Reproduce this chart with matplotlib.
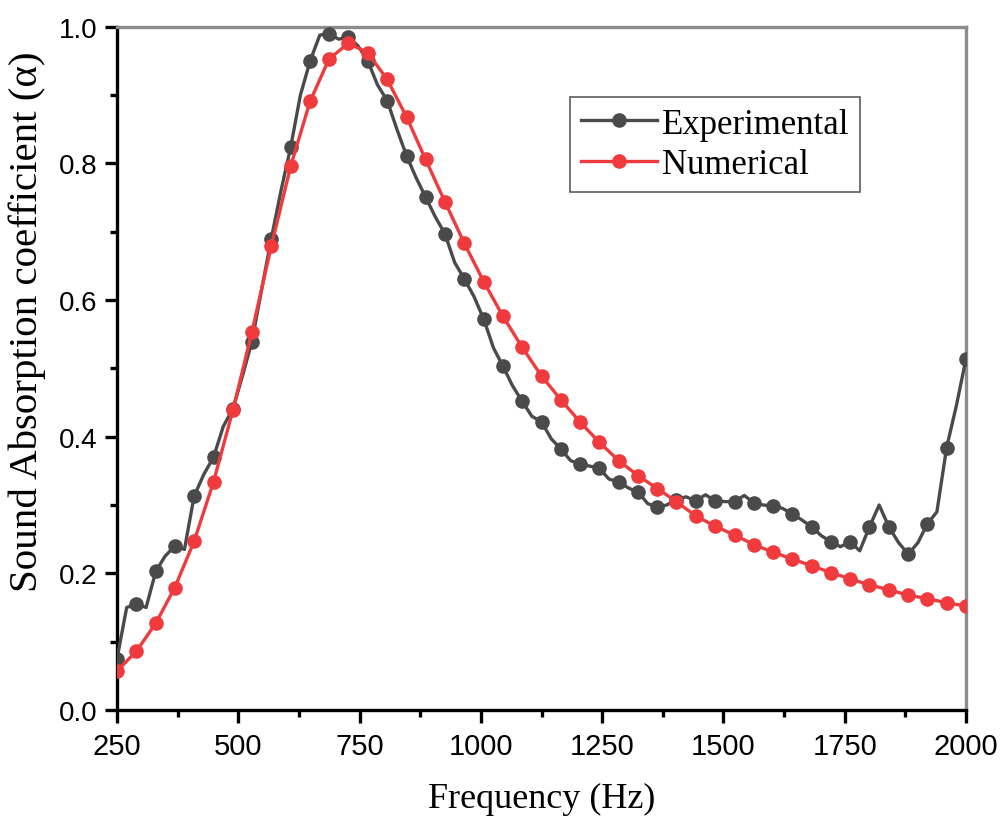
import matplotlib
matplotlib.use('Agg')
import matplotlib.pyplot as plt
from matplotlib.ticker import MultipleLocator

# experimental curve (dense), markers on every second point
exp_freq = [250, 270, 290, 310, 330, 349, 369, 389, 409, 429, 449, 469, 489, 509, 528, 548,
            568, 588, 608, 628, 648, 668, 687, 707, 727, 747, 767, 787, 807, 827, 847, 866,
            886, 906, 926, 946, 966, 986, 1006, 1026, 1045, 1065, 1085, 1105, 1125, 1145,
            1165, 1185, 1205, 1224, 1244, 1264, 1284, 1304, 1324, 1344, 1364, 1383, 1403,
            1423, 1443, 1463, 1483, 1503, 1523, 1543, 1563, 1582, 1602, 1622, 1642, 1662,
            1682, 1702, 1722, 1741, 1761, 1781, 1801, 1821, 1841, 1861, 1881, 1901, 1920,
            1940, 1960, 1980, 2000]
exp_alpha = [0.075, 0.150, 0.155, 0.150, 0.203, 0.225, 0.240, 0.235, 0.313, 0.345, 0.370,
             0.415, 0.441, 0.490, 0.539, 0.615, 0.690, 0.760, 0.824, 0.900, 0.950, 0.988,
             0.990, 0.982, 0.985, 0.972, 0.950, 0.915, 0.892, 0.850, 0.811, 0.780, 0.751,
             0.722, 0.697, 0.655, 0.631, 0.605, 0.572, 0.530, 0.504, 0.475, 0.452, 0.430,
             0.422, 0.397, 0.382, 0.365, 0.360, 0.357, 0.354, 0.338, 0.334, 0.325, 0.319,
             0.302, 0.297, 0.300, 0.308, 0.312, 0.306, 0.315, 0.306, 0.305, 0.305, 0.314,
             0.303, 0.300, 0.299, 0.295, 0.287, 0.278, 0.268, 0.255, 0.246, 0.239, 0.246,
             0.233, 0.268, 0.300, 0.268, 0.245, 0.228, 0.245, 0.272, 0.290, 0.384, 0.445,
             0.514]

# numerical curve
num_freq = exp_freq[::2]
num_alpha = [0.057, 0.086, 0.127, 0.179, 0.247, 0.334, 0.439, 0.553, 0.679, 0.796, 0.891,
             0.953, 0.976, 0.962, 0.923, 0.868, 0.806, 0.744, 0.683, 0.627, 0.577, 0.531,
             0.489, 0.454, 0.421, 0.392, 0.365, 0.343, 0.324, 0.305, 0.284, 0.269, 0.256,
             0.242, 0.231, 0.221, 0.211, 0.201, 0.192, 0.183, 0.176, 0.168, 0.163, 0.157,
             0.152]

serif = ['Liberation Serif', 'DejaVu Serif']
sans = ['Liberation Sans', 'DejaVu Sans']

fig = plt.figure(figsize=(10, 8.2), dpi=100)
ax = fig.add_axes([0.117, 0.133, 0.849, 0.833])

ax.plot(exp_freq, exp_alpha, color='#4a4a4a', lw=2.4, marker='o', ms=9.5,
        markevery=2, label='Experimental', zorder=3)
ax.plot(num_freq, num_alpha, color='#ef3b3d', lw=2.4, marker='o', ms=9.5,
        label='Numerical', zorder=4)

ax.set_xlim(250, 2000)
ax.set_ylim(0, 1.0)
ax.xaxis.set_major_locator(MultipleLocator(250))
ax.xaxis.set_minor_locator(MultipleLocator(125))
ax.yaxis.set_major_locator(MultipleLocator(0.2))
ax.yaxis.set_minor_locator(MultipleLocator(0.1))
ax.yaxis.set_major_formatter(plt.FormatStrFormatter('%.1f'))

for s in ['left', 'bottom']:
    ax.spines[s].set_linewidth(2.4)
    ax.spines[s].set_color('black')
for s in ['top', 'right']:
    ax.spines[s].set_linewidth(2.4)
    ax.spines[s].set_color('#8c8c8c')

ax.tick_params(which='major', direction='out', length=9, width=2.4, top=False, right=False, pad=5)
ax.tick_params(which='minor', direction='out', length=5, width=2.4, top=False, right=False)
ax.tick_params(axis='x', which='major', pad=7)
for lab in ax.get_yticklabels():
    lab.set_family(sans)
    lab.set_fontsize(20)
for lab in ax.get_xticklabels():
    lab.set_family(sans)
    lab.set_fontsize(21)

ax.set_xlabel('Frequency (Hz)', family=serif, fontsize=26, labelpad=16)
ax.text(-0.106, 0.57, 'Sound Absorption coefficient (α)', transform=ax.transAxes,
        rotation=90, ha='center', va='center', family=serif, fontsize=29.5)

leg = ax.legend(loc='upper left', bbox_to_anchor=(0.534, 0.897), prop={'family': serif, 'size': 25},
                frameon=True, fancybox=False, edgecolor='#333333', handlelength=2.2,
                borderpad=0.3, labelspacing=0.22, handletextpad=0.15, borderaxespad=0)
leg.get_frame().set_linewidth(1.2)

fig.savefig('out.png', dpi=100)
